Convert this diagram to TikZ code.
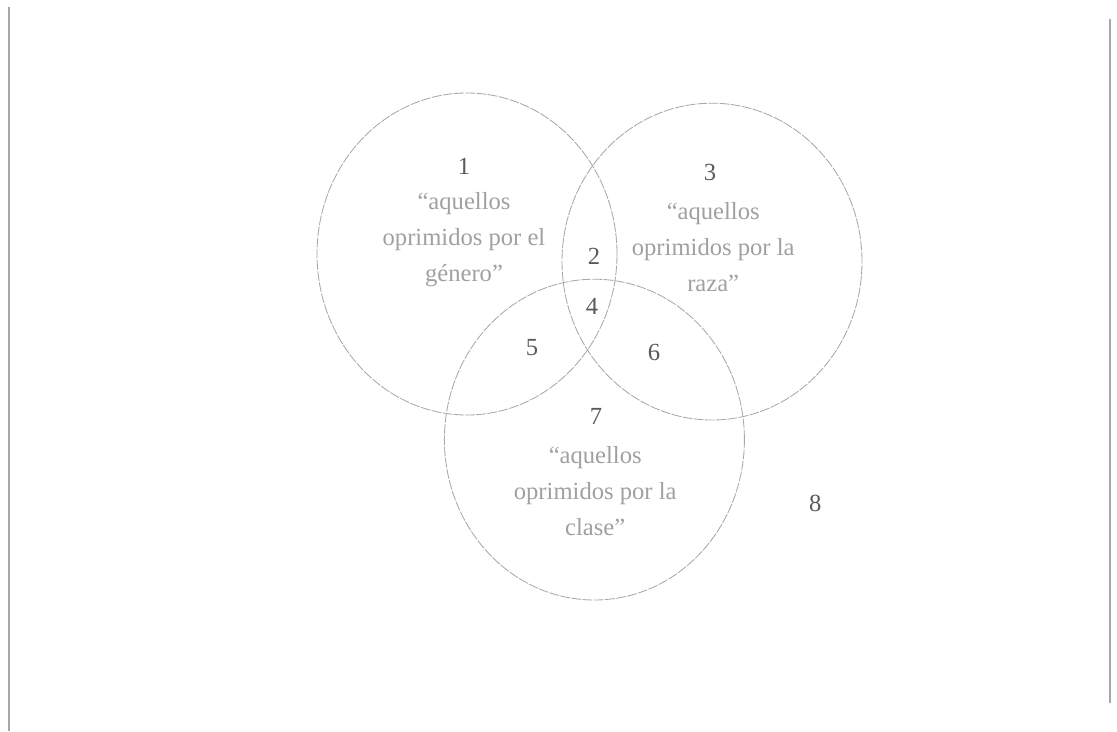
\documentclass[tikz,border=0pt]{standalone}
\usepackage{fontspec}
\setmainfont{Liberation Serif}
\definecolor{ringgray}{HTML}{A8A8A8}
\definecolor{labelgray}{HTML}{A0A0A0}
\definecolor{numgray}{HTML}{5A5A5A}
\begin{document}
\begin{tikzpicture}[every node/.style={inner sep=0pt,font=\fontsize{17.5}{25.6}\selectfont}]
\useasboundingbox (0,0) rectangle (27.925,-18.275);
\tikzset{ring/.style={draw=ringgray,line width=0.6pt,dash pattern=on 7pt off 1pt},
  region/.style={text=numgray},
  quote/.style={text=labelgray,align=center}}
\draw[ringgray,line width=1pt] (0.225,-0.175) -- (0.225,-18.275);
\draw[ringgray,line width=1pt] (27.75,-0.475) -- (27.75,-17.575);
\draw[ring] (11.675,-6.35) ellipse (3.75 and 4.025);
\draw[ring] (17.8,-6.54) ellipse (3.75 and 3.96);
\draw[ring] (14.86,-10.99) ellipse (3.75 and 4.01);
\node[region] (n1) at (11.6,-4.15) {1};
\node[quote] (t1) at (11.6,-6.0) {“aquellos\\oprimidos por el\\género”};
\node[region] (n2) at (14.85,-6.4) {2};
\node[region] (n3) at (17.75,-4.3) {3};
\node[quote] (t3) at (17.83,-6.18) {“aquellos\\oprimidos por la\\raza”};
\node[region] (n4) at (14.8,-7.65) {4};
\node[region] (n5) at (13.3,-8.68) {5};
\node[region] (n6) at (16.35,-8.8) {6};
\node[region] (n7) at (14.9,-10.4) {7};
\node[quote] (t7) at (14.88,-12.28) {“aquellos\\oprimidos por la\\clase”};
\node[region] (n8) at (20.38,-12.58) {8};
\end{tikzpicture}
\end{document}
